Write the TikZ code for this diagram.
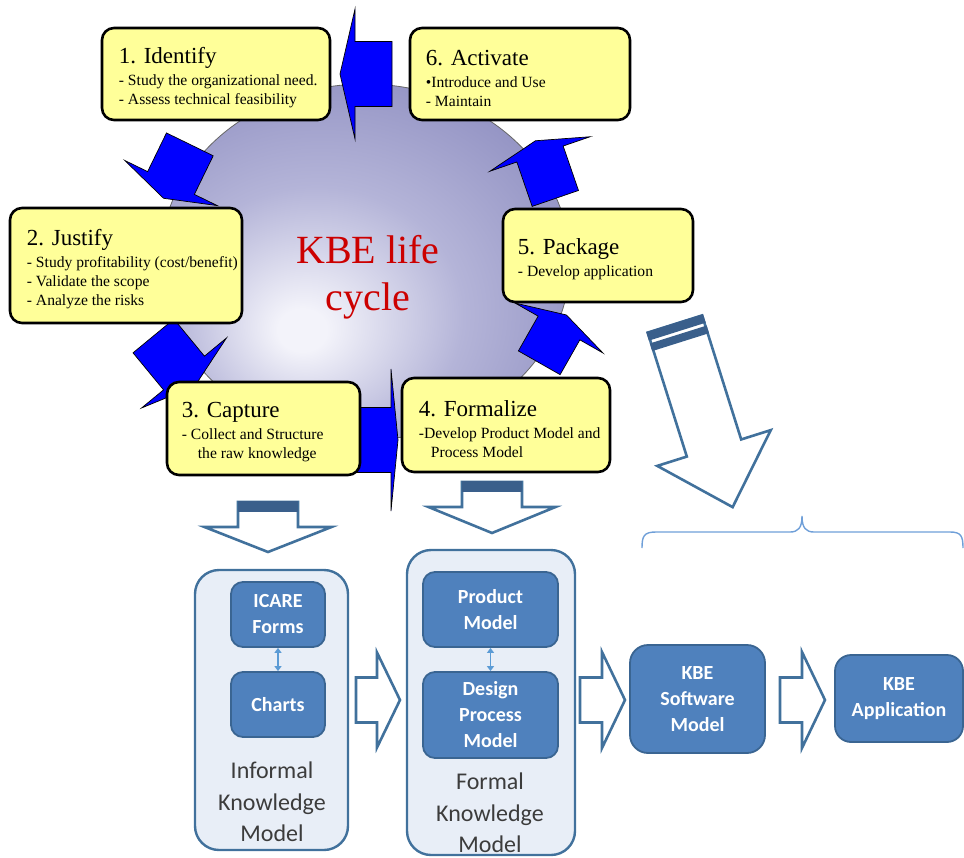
\documentclass[tikz,border=0pt]{standalone}
\usepackage{fontspec}
\setmainfont{Liberation Serif}
\newfontfamily\calibri{Carlito}
\usetikzlibrary{arrows.meta}
\definecolor{cardyellow}{HTML}{FFFF99}
\definecolor{arrowblue}{HTML}{0000FF}
\definecolor{cycleblue}{HTML}{8A8ABE}
\definecolor{cyclemid}{HTML}{B4B4D8}
\definecolor{cyclecore}{HTML}{F3F3FA}
\definecolor{kbered}{HTML}{CC0000}
\definecolor{steelline}{HTML}{41719C}
\definecolor{barblue}{HTML}{3A5F8B}
\definecolor{modelfill}{HTML}{4F81BD}
\definecolor{modeledge}{HTML}{3A6592}
\definecolor{panelfill}{HTML}{E8EEF7}
\definecolor{bracecol}{HTML}{6F9FD8}
\definecolor{linkblue}{HTML}{5B9BD5}
\definecolor{labelgray}{HTML}{3C3C3C}
\pgfdeclareradialshading{cycleglow}{\pgfpoint{-8bp}{-10bp}}{color(0bp)=(cyclecore); color(3bp)=(cyclecore); color(18bp)=(cyclemid); color(37bp)=(cycleblue); color(70bp)=(cycleblue)}
\newcommand\steptitle[1]{{\fontsize{23}{26}\selectfont #1}}

\begin{document}
\begin{tikzpicture}[x=1pt,y=-1pt,
  stepcard/.style={draw=black, line width=2.6pt, fill=cardyellow, rounded corners=12pt, inner sep=0pt},
  steptext/.style={anchor=west, align=left, inner sep=0pt, yshift=-4pt, font=\fontsize{15.6}{19}\selectfont},
  cyclearrow/.style={fill=arrowblue, draw=black, line width=0.7pt},
  hollowarrow/.style={fill=white, draw=steelline, line width=2.6pt},
  panel/.style={draw=steelline, line width=2.4pt, fill=panelfill, rounded corners=24pt, inner sep=0pt},
  modelbox/.style={draw=modeledge, line width=1.8pt, fill=modelfill, rounded corners=12pt, inner sep=0pt, text=white, align=center, font=\calibri\bfseries\fontsize{20}{26}\selectfont},
  paneltext/.style={align=center, text=labelgray, font=\calibri\fontsize{24}{31.5}\selectfont},
  linkarrow/.style={{Triangle[length=5pt,width=7pt]}-{Triangle[length=5pt,width=7pt]}, draw=linkblue, line width=1.6pt}]
    \useasboundingbox (0,0) rectangle (964,857);

    \shade[shading=cycleglow, draw=black!60, line width=0.8pt] (365,262) ellipse [x radius=205pt, y radius=178pt]; % 生命周期背景

    \foreach \px/\py/\ang/\len/\wid/\hwid/\hlen in {355/74/180/37/65/130/15, 171/183/244/43/52/103/17, 184/373/-50.5/48/53/110/17, 391/440/0/45/65/142/7, 559/328/60.4/40/48/101/15, 540/154/109/47/49/106/14}{
    \draw[cyclearrow, shift={(\px,\py)}, rotate=\ang]
     (-\len,-\wid/2) -- (0,-\wid/2) -- (0,-\hwid/2) -- (\hlen,0) -- (0,\hwid/2) -- (0,\wid/2) -- (-\len,\wid/2) -- cycle;
    } % 六个阶段之间的箭头

    \node[stepcard, minimum width=228pt, minimum height=92pt] (identify) at (216,74) {};
    \node[steptext] (identify-t) at ([xshift=18pt]identify.west) {\steptitle{1. Identify}\\[3pt]- Study the organizational need.\\- Assess technical feasibility};
    \node[stepcard, minimum width=232pt, minimum height=115pt] (justify) at (126,265.5) {};
    \node[steptext] (justify-t) at ([xshift=18pt]justify.west) {\steptitle{2. Justify}\\[3pt]- Study profitability (cost/benefit)\\- Validate the scope\\- Analyze the risks};
    \node[stepcard, minimum width=193pt, minimum height=93pt] (capture) at (263.5,428.5) {};
    \node[steptext] (capture-t) at ([xshift=16pt]capture.west) {\steptitle{3. Capture}\\[3pt]- Collect and Structure\\\hspace*{16pt}the raw knowledge};
    \node[stepcard, minimum width=208pt, minimum height=94pt] (formalize) at (506,425) {};
    \node[steptext] (formalize-t) at ([xshift=18pt]formalize.west) {\steptitle{4. Formalize}\\[3pt]-Develop Product Model and\\\hspace*{12pt}Process Model};
    \node[stepcard, minimum width=190pt, minimum height=93pt] (package) at (598,255.5) {};
    \node[steptext] (package-t) at ([xshift=16pt]package.west) {\steptitle{5. Package}\\[3pt]- Develop application};
    \node[stepcard, minimum width=220pt, minimum height=92pt] (activate) at (520,74) {};
    \node[steptext] (activate-t) at ([xshift=17pt]activate.west) {\steptitle{6. Activate}\\[3pt]\textbullet Introduce and Use\\- Maintain};

    \node[font=\fontsize{40}{47}\selectfont, text=kbered, align=center] (kbe) at (368,277) {KBE life\\cycle};

    \foreach \px/\py/\ang/\len/\wid/\hwid/\hlen in {268/527/-90/25/60/127/25, 492/507/-90/25/60/127/26, 377/700/0/21/45/95/23, 602/700/0/22/45/96/23, 802/700/0/22/45/96/23, 714/448/-72.5/130/57/119/62}{
    \draw[hollowarrow, shift={(\px,\py)}, rotate=\ang]
     (-\len,-\wid/2) -- (0,-\wid/2) -- (0,-\hwid/2) -- (\hlen,0) -- (0,\hwid/2) -- (0,\wid/2) -- (-\len,\wid/2) -- cycle;
    } % 空心箭头
    \fill[barblue] (238,501) rectangle (298,512);
    \fill[barblue] (462,481) rectangle (522,492);
    \fill[barblue, shift={(714,448)}, rotate=-72.5] (-131,-29.8) rectangle (-122,29.8) (-119,-29.8) rectangle (-111,29.8);

    \draw[bracecol, line width=1.4pt] (642,548) .. controls (642,536) and (644,532) .. (656,532) -- (790,532)
     .. controls (798,532) and (802,528) .. (802,516) .. controls (802,528) and (806,532) .. (814,532) -- (950,532)
     .. controls (961,532) and (963,536) .. (963,548);

    \node[panel, minimum width=153pt, minimum height=280pt] (informal) at (271.5,710) {};
    \node[panel, minimum width=168pt, minimum height=305pt] (formal) at (491,702.5) {};
    \node[modelbox, minimum width=94pt, minimum height=65pt] (icare) at (278,614.5) {ICARE\\Forms};
    \node[modelbox, minimum width=94pt, minimum height=65pt] (charts) at (278,704.5) {Charts};
    \node[modelbox, minimum width=135pt, minimum height=75pt] (product) at (490.5,609.5) {Product\\Model};
    \node[modelbox, minimum width=135pt, minimum height=86pt] (design) at (490.5,715) {Design\\Process\\Model};
    \node[modelbox, rounded corners=18pt, minimum width=135pt, minimum height=108pt] (software) at (697.5,699) {KBE\\Software\\Model};
    \node[modelbox, rounded corners=16pt, minimum width=128pt, minimum height=87pt] (application) at (899,698.5) {KBE\\Application};
    \draw[linkarrow] (icare) -- (charts);
    \draw[linkarrow] (product) -- (design);
    \node[paneltext] (informal-t) at (272,802) {Informal\\Knowledge\\Model};
    \node[paneltext] (formal-t) at (490,813) {Formal\\Knowledge\\Model};
\end{tikzpicture}
\end{document}
